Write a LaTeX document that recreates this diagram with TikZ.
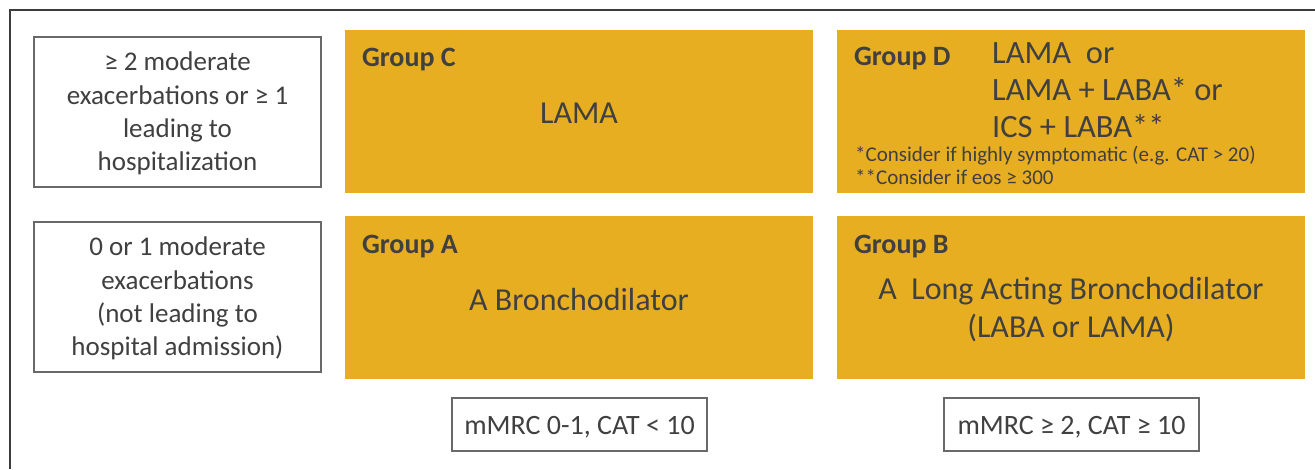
\documentclass[tikz,border=0pt]{standalone}
\usepackage{fontspec}
\setmainfont{Carlito}
\usetikzlibrary{calc}
\definecolor{gold}{RGB}{231,174,34}
\definecolor{ink}{RGB}{64,64,64}
\definecolor{edge}{RGB}{105,105,105}
\definecolor{frame}{RGB}{60,60,60}
\newcommand{\fs}[2]{\fontsize{#1}{#2}\selectfont}

\begin{document}
\begin{tikzpicture}[x=1pt,y=-1pt,
  outline/.style={draw=edge, line width=1.3pt, fill=white, inner sep=0pt},
  groupbox/.style={fill=gold, inner sep=0pt, minimum width=468pt, minimum height=163pt},
  txt/.style={text=ink, inner sep=0pt},
  label/.style={txt, anchor=base west, font=\fs{28}{33}\bfseries},
  rowtext/.style={txt, align=center, font=\fs{27}{33.2}},
  big/.style={txt, anchor=base, font=\fs{32}{38}},
  dline/.style={txt, anchor=base west, font=\fs{32.5}{37}},
  note/.style={txt, anchor=base west, font=\fs{21}{23}},
  axis/.style={txt, anchor=base, font=\fs{28}{32}},
]
\useasboundingbox (0,0) rectangle (1315,469);

% outer frame (left and top edges)
\draw[frame, line width=1.8pt] (10,469) -- (10,10) -- (1315,10);

% exacerbation rows
\node[outline, minimum width=287pt, minimum height=150pt] (rowhi) at (177.5,112) {};
\node[rowtext] (rowhitext) at ($(rowhi.center)+(0,1.5)$)
  {≥ 2 moderate\\exacerbations or ≥ 1\\leading to\\hospitalization};
\node[outline, minimum width=287pt, minimum height=150pt] (rowlo) at (177.5,297) {};
\node[rowtext] (rowlotext) at ($(rowlo.center)+(0,1.5)$)
  {0 or 1 moderate\\exacerbations\\(not leading to\\hospital admission)};

% treatment groups
\node[groupbox] (gc) at (579,111.5) {};
\node[groupbox] (gd) at (1071,111.5) {};
\node[groupbox] (ga) at (579,297.5) {};
\node[groupbox] (gb) at (1071,297.5) {};

\node[label] (gclabel) at ($(gc.north west)+(17,37)$) {Group C};
\node[big] (gctext) at (579,123) {LAMA};

\node[label] (gdlabel) at ($(gd.north west)+(17,36)$) {Group D};
\node[dline] (gd1) at (992,63) {LAMA\ \ or};
\node[dline] (gd2) at (992,100) {LAMA + LABA* or};
\node[dline] (gd3) at (992,137) {ICS + LABA**};
\node[note] (gdn1) at (855,161.5) {*Consider if highly symptomatic (e.g. CAT > 20)};
\node[note] (gdn2) at (855,184) {**Consider if eos ≥ 300};

\node[label] (galabel) at ($(ga.north west)+(17,38)$) {Group A};
\node[big] (gatext) at (579,310) {A Bronchodilator};

\node[label] (gblabel) at ($(gb.north west)+(17,38)$) {Group B};
\node[big] (gb1) at (1071,299) {A\ \ Long Acting Bronchodilator};
\node[big] (gb2) at (1071,337) {(LABA or LAMA)};

% symptom columns
\node[outline, minimum width=255pt, minimum height=53pt] (collo) at (579.5,424.5) {};
\node[axis] (collotext) at (579.5,434) {mMRC 0-1, CAT < 10};
\node[outline, minimum width=255pt, minimum height=53pt] (colhi) at (1071.5,424.5) {};
\node[axis] (colhitext) at (1071.5,434) {mMRC ≥ 2, CAT ≥ 10};
\end{tikzpicture}
\end{document}
